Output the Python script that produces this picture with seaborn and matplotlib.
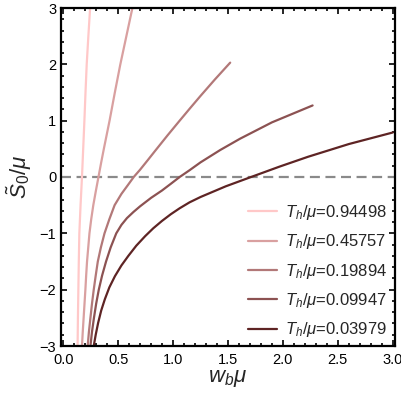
import numpy as np
import pandas as pd
import matplotlib
matplotlib.use('Agg')
import matplotlib.pyplot as plt
import seaborn as sns
from matplotlib.ticker import MultipleLocator, FormatStrFormatter, FuncFormatter

# Curves, one per temperature.
temps = ['0.94498', '0.45757', '0.19894', '0.09947', '0.03979']

x_094 = [0.131, 0.134, 0.138, 0.142, 0.147, 0.158, 0.171, 0.182, 0.193, 0.203, 0.214, 0.229, 0.245]
y_094 = [-3.0, -2.5, -2.0, -1.5, -1.0, -0.5, 0.0, 0.5, 1.0, 1.5, 2.0, 2.5, 3.0]

x_046 = [0.171, 0.178, 0.186, 0.194, 0.202, 0.209, 0.217, 0.228, 0.239, 0.255, 0.274, 0.297,
         0.321, 0.345, 0.37, 0.396, 0.422, 0.47, 0.52, 0.575, 0.63]
y_046 = [-3.0, -2.75, -2.5, -2.25, -2.0, -1.75, -1.5, -1.25, -1.0, -0.75, -0.5, -0.25,
         0.0, 0.25, 0.5, 0.75, 1.0, 1.5, 2.0, 2.5, 3.0]

x_020 = [0.223, 0.234, 0.248, 0.262, 0.278, 0.296, 0.315, 0.343, 0.376, 0.42, 0.468, 0.53,
         0.59, 0.642, 0.70, 0.77, 0.835, 0.95, 1.06, 1.15, 1.25, 1.38, 1.52]
y_020 = [-3.0, -2.75, -2.5, -2.25, -2.0, -1.75, -1.5, -1.25, -1.0, -0.75, -0.5, -0.3,
         -0.14, 0.0, 0.13, 0.30, 0.46, 0.74, 1.0, 1.21, 1.44, 1.73, 2.03]

x_010 = [0.248, 0.262, 0.28, 0.30, 0.324, 0.354, 0.39, 0.432, 0.483, 0.53, 0.58, 0.64,
         0.70, 0.80, 0.899, 0.98, 1.06, 1.15, 1.25, 1.43, 1.61, 1.9, 2.27]
y_010 = [-3.0, -2.75, -2.5, -2.25, -2.0, -1.75, -1.5, -1.25, -1.0, -0.85, -0.73, -0.62,
         -0.52, -0.37, -0.24, -0.12, 0.0, 0.12, 0.26, 0.48, 0.68, 0.97, 1.27]

x_004 = [0.278, 0.296, 0.318, 0.346, 0.379, 0.42, 0.471, 0.53, 0.593, 0.665, 0.746, 0.82,
         0.899, 0.98, 1.06, 1.15, 1.25, 1.48, 1.71, 1.97, 2.23, 2.6, 3.0]
y_004 = [-3.0, -2.8, -2.59, -2.37, -2.17, -1.96, -1.76, -1.57, -1.40, -1.22, -1.05, -0.91,
         -0.78, -0.66, -0.555, -0.45, -0.355, -0.165, 0.0, 0.185, 0.36, 0.585, 0.79]

curves_x = [x_094, x_046, x_020, x_010, x_004]
curves_y = [y_094, y_046, y_020, y_010, y_004]

colors = ['#ffc8c8', '#d9a0a0', '#b27878', '#8c5252', '#5e2424']

sns.set_style('ticks')
plt.rcParams['font.family'] = ['Liberation Sans', 'DejaVu Sans']
plt.rcParams['mathtext.fontset'] = 'custom'
plt.rcParams['mathtext.rm'] = 'Liberation Sans'
plt.rcParams['mathtext.it'] = 'Liberation Sans:italic'

fig = plt.figure(figsize=(4.02, 3.95), dpi=100)
ax = fig.add_axes([61 / 402, 1 - 346 / 395, 334 / 402, 338 / 395])

ax.axhline(0, color='#8a8a8a', lw=1.6, dashes=(4.5, 2.5), zorder=1)

for t, xs, ys, c in zip(temps, curves_x, curves_y, colors):
    df = pd.DataFrame({'x': xs, 'y': ys})
    sns.lineplot(data=df, x='x', y='y', sort=False, estimator=None, color=c, lw=1.6,
                 label=f'$T_h/\\mu$={t}', ax=ax)

ax.set_xlim(-0.02, 3.02)
ax.set_ylim(-3, 3)
ax.xaxis.set_major_locator(MultipleLocator(0.5))
ax.xaxis.set_minor_locator(MultipleLocator(0.1))
ax.yaxis.set_major_locator(MultipleLocator(1))
ax.yaxis.set_minor_locator(MultipleLocator(0.2))
ax.xaxis.set_major_formatter(FormatStrFormatter('%.1f'))
ax.yaxis.set_major_formatter(FuncFormatter(lambda v, p: f'{v:.0f}'.replace('-', '\u2212')))
ax.tick_params(which='both', direction='in', top=True, right=True, width=1.2, labelsize=10.5, colors='black')
ax.tick_params(which='major', length=4.5)
ax.tick_params(axis='x', which='major', pad=5)
ax.tick_params(which='minor', length=2.5)
for s in ax.spines.values():
    s.set_linewidth(1.6)
    s.set_color('black')

ax.set_xlabel('$w_b\\mu$', fontsize=16, labelpad=1)
ax.set_ylabel('$\\tilde{S}_0/\\mu$', fontsize=16, labelpad=4)

ax.legend(loc='lower right', bbox_to_anchor=(0.995, 0.0), frameon=False, fontsize=12,
          handlelength=1.75, handletextpad=0.45, labelspacing=0.62, borderaxespad=0.1, borderpad=0.3)

fig.savefig('out.png', dpi=100)
